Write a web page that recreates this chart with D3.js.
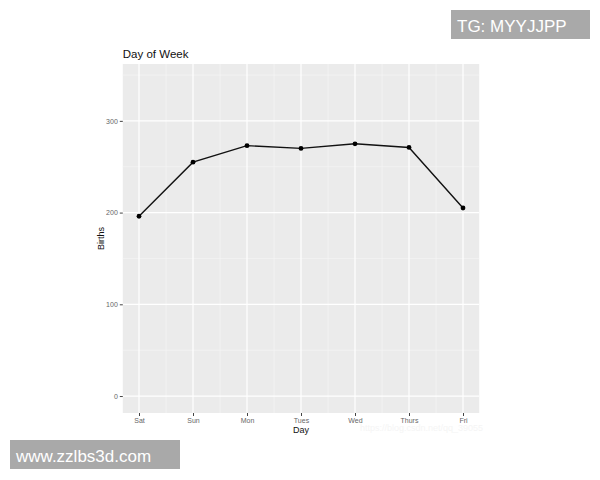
<!DOCTYPE html>
<html>
<head>
<meta charset="utf-8">
<script src="https://cdn.jsdelivr.net/npm/d3@7"></script>
<style>
  body { margin: 0; background: #fff; }
  text { font-family: "Liberation Sans", Arial, sans-serif; }
</style>
</head>
<body>
<svg id="chart" width="600" height="480"></svg>
<script>
// data
const days = ['Sat', 'Sun', 'Mon', 'Tues', 'Wed', 'Thurs', 'Fri'];
const births = [196, 255, 273, 270, 275, 271, 205];
const yTicks = [0, 100, 200, 300];
const yMinor = [50, 150, 250, 350];

const svg = d3.select('#chart');
const panel = { left: 122.8, right: 479.2, top: 64, bottom: 413 };

// x is numeric 1..7 (ggplot continuous scale, 5% expand)
const x = d3.scaleLinear().domain([0.7, 7.3]).range([panel.left, panel.right]);
const y = d3.scaleLinear().domain([-18.5, 362]).range([panel.bottom, panel.top]);

const xMinor = d3.range(1, days.length).map((d) => d + 0.5);

svg.append('rect')
  .attr('x', panel.left).attr('y', panel.top)
  .attr('width', panel.right - panel.left).attr('height', panel.bottom - panel.top)
  .attr('fill', '#ebebeb');

const grid = svg.append('g');
grid.selectAll('line.ymin').data(yMinor).enter().append('line')
  .attr('x1', panel.left).attr('x2', panel.right)
  .attr('y1', (d) => y(d)).attr('y2', (d) => y(d))
  .attr('stroke', '#f7f7f7').attr('stroke-width', 0.6);
grid.selectAll('line.xmin').data(xMinor).enter().append('line')
  .attr('y1', panel.top).attr('y2', panel.bottom)
  .attr('x1', (d) => x(d)).attr('x2', (d) => x(d))
  .attr('stroke', '#f7f7f7').attr('stroke-width', 0.6);
grid.selectAll('line.ymaj').data(yTicks).enter().append('line')
  .attr('x1', panel.left).attr('x2', panel.right)
  .attr('y1', (d) => y(d)).attr('y2', (d) => y(d))
  .attr('stroke', '#fff').attr('stroke-width', 1.2);
grid.selectAll('line.xmaj').data(days).enter().append('line')
  .attr('y1', panel.top).attr('y2', panel.bottom)
  .attr('x1', (d, i) => x(i + 1)).attr('x2', (d, i) => x(i + 1))
  .attr('stroke', '#fff').attr('stroke-width', 1.2);

// axes
const yAxis = svg.append('g')
  .attr('transform', `translate(${panel.left},0)`)
  .call(d3.axisLeft(y).tickValues(yTicks).tickSize(3).tickPadding(2));
const xAxis = svg.append('g')
  .attr('transform', `translate(0,${panel.bottom})`)
  .call(d3.axisBottom(x).tickValues(d3.range(1, 8)).tickFormat((d) => days[d - 1])
    .tickSize(3).tickPadding(2));
[xAxis, yAxis].forEach((a) => {
  a.select('.domain').remove();
  a.selectAll('.tick line').attr('stroke', '#444');
  a.selectAll('.tick text').attr('fill', '#666').attr('font-size', 7)
    .style('font-family', '"Liberation Sans", Arial, sans-serif');
});

// line + points
const line = d3.line().x((d, i) => x(i + 1)).y((d) => y(d));
svg.append('path')
  .datum(births)
  .attr('d', line)
  .attr('fill', 'none')
  .attr('stroke', '#111')
  .attr('stroke-width', 1.4);
svg.selectAll('circle.pt').data(births).enter().append('circle')
  .attr('cx', (d, i) => x(i + 1))
  .attr('cy', (d) => y(d))
  .attr('r', 2.4)
  .attr('fill', '#000');

// titles
svg.append('text').attr('x', panel.left).attr('y', 58)
  .attr('font-size', 11.5).attr('fill', '#111').text('Day of Week');
svg.append('text').attr('x', (panel.left + panel.right) / 2).attr('y', 433)
  .attr('text-anchor', 'middle').attr('font-size', 9).attr('fill', '#111').text('Day');
svg.append('text')
  .attr('transform', `translate(104,${(panel.top + panel.bottom) / 2}) rotate(-90)`)
  .attr('text-anchor', 'middle').attr('font-size', 9).attr('fill', '#111').text('Births');

// watermarks
svg.append('text').attr('x', 360).attr('y', 431)
  .attr('font-size', 9).attr('fill', '#f5f5f5').text('https://blog.csdn.net/qq_39055');
svg.append('rect').attr('x', 451).attr('y', 10).attr('width', 139).attr('height', 29).attr('fill', '#a9a9a9');
svg.append('text').attr('x', 457).attr('y', 31.5)
  .attr('font-size', 17).attr('fill', '#fff').text('TG: MYYJJPP');
svg.append('rect').attr('x', 10).attr('y', 440).attr('width', 170).attr('height', 29).attr('fill', '#a9a9a9');
svg.append('text').attr('x', 16).attr('y', 461.5)
  .attr('font-size', 17).attr('fill', '#fff').text('www.zzlbs3d.com');
</script>
</body>
</html>
